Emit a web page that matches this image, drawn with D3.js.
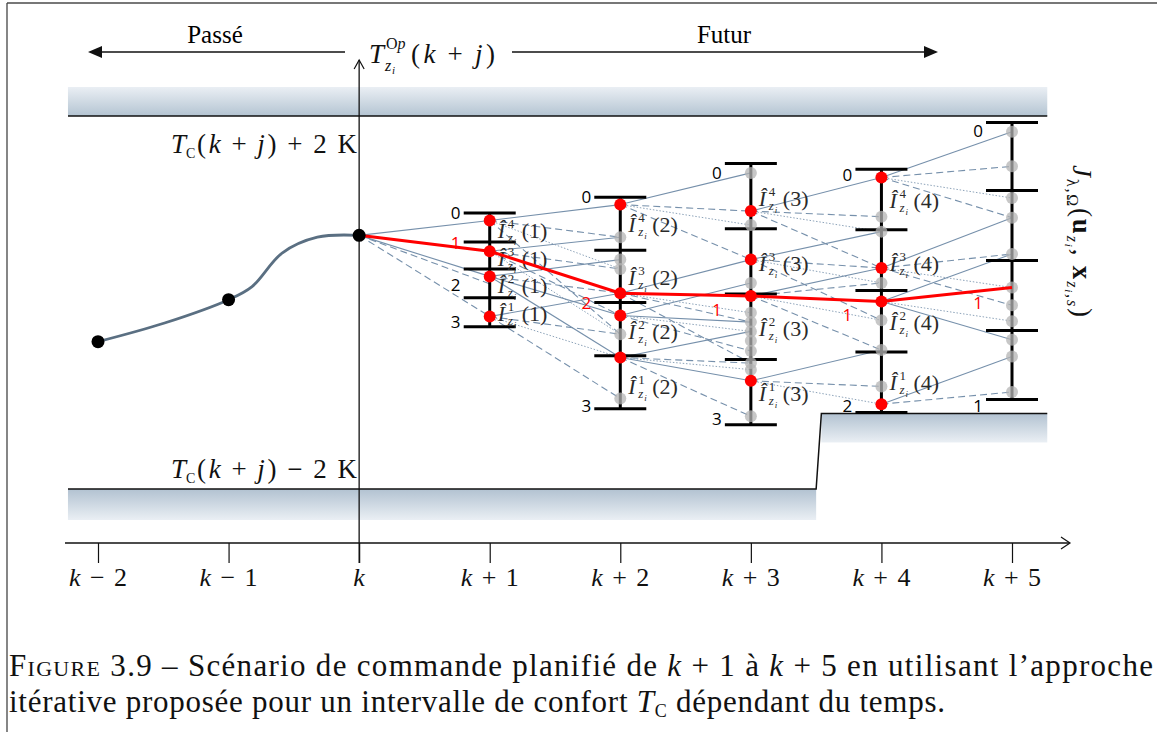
<!DOCTYPE html>
<html><head><meta charset="utf-8">
<script src="https://cdn.jsdelivr.net/npm/d3@7"></script>
<style>body{margin:0;background:#fff}svg{display:block}</style>
</head><body>
<svg id="c" width="1157" height="732"></svg>
<script>
// ---------------- data ----------------
const steps = [-2, -1, 0, 1, 2, 3, 4, 5];
const tickOps = ["−", "−", "", "+", "+", "+", "+", "+"];
const tickNums = ["2", "1", "", "1", "2", "3", "4", "5"];

// past trajectory (K relative to comfort centre)
const pastT = [-2, -1, 0];
const pastV = [-0.42, 0.03, 0.72];
const pastCurveT = [-2, -1.49, -1, -0.82, -0.59, -0.32, 0];
const pastCurveV = [-0.42, -0.22, 0.03, 0.17, 0.53, 0.70, 0.72];

// comfort bounds
const upperBoundT = [-2.23, 5.27];
const upperBoundV = [2, 2];
const lowerBoundT = [-2.23, 3.5, 3.54, 5.27];
const lowerBoundV = [-2, -2, -1.19, -1.19];

// future stages
const stages = [1, 2, 3, 4, 5];
const levelCaps = [
  [0.96, 0.65, 0.36, 0.05, -0.26],
  [1.13, 0.56, 0.00, -0.57, -1.14],
  [1.49, 0.79, 0.09, -0.61, -1.31],
  [1.43, 0.78, 0.13, -0.53, -1.18],
  [1.93, 1.20, 0.45, -0.30, -1.04]
];
const redDots = [
  [0.88, 0.55, 0.28, -0.15],
  [1.05, 0.10, -0.14, -0.59],
  [0.98, 0.46, 0.07, -0.84],
  [1.34, 0.37, 0.01, -1.09],
  []
];
const grayDots = [
  [],
  [0.70, 0.46, 0.36, -0.34, -1.03],
  [1.39, 0.83, 0.21, -0.11, -0.21, -0.31, -0.41, -0.52, -0.65, -0.72, -1.22],
  [0.92, 0.76, 0.21, -0.19, -0.51, -0.90],
  [1.83, 1.46, 1.12, 0.91, 0.52, 0.16, -0.03, -0.20, -0.40, -0.58, -0.96]
];

// level number labels: [stage, value, text]
const levelLabels = [
  [1, 0.96, "0"], [1, 0.19, "2"], [1, -0.21, "3"],
  [2, 1.13, "0"], [2, -1.11, "3"],
  [3, 1.39, "0"], [3, -1.25, "3"],
  [4, 1.37, "0"], [4, -1.11, "2"],
  [5, 1.84, "0"], [5, -1.11, "1"]
];

// interval labels Î^n_{z_i}(j): value of label centre per stage, n = 4..1
const intervalLabelV = [
  [0.78, 0.48, 0.19, -0.11],
  [0.84, 0.27, -0.31, -0.90],
  [1.12, 0.42, -0.27, -0.97],
  [1.10, 0.42, -0.21, -0.85]
];
const intervalNames = ["4", "3", "2", "1"];

// chosen (red) path
const pathT = [0, 1, 2, 3, 4, 5];
const pathV = [0.72, 0.55, 0.10, 0.07, 0.01, 0.16];
const pathLabels = ["1", "2", "1", "1", "1"];
const pathLabelV = [0.64, -0.01, -0.08, -0.13, -0.01];

// transitions: [fromValue, toValue, style]  s=solid d=dashed o=dotted
const edges01 = [[0.72, 0.88, "s"], [0.72, 0.28, "s"], [0.72, 0.20, "d"], [0.72, -0.15, "d"]];
const edges12 = [
  [0.88, 1.05, "s"], [0.88, 0.70, "d"], [0.88, 0.36, "o"], [0.88, -0.34, "d"],
  [0.55, 0.70, "s"], [0.55, 0.36, "d"], [0.55, -0.14, "d"], [0.55, -0.34, "o"],
  [0.28, 0.46, "s"], [0.28, 0.10, "d"], [0.28, -0.14, "s"], [0.28, -0.59, "s"],
  [-0.15, 0.10, "s"], [-0.15, -0.34, "d"], [-0.15, -0.59, "o"], [-0.15, -1.03, "d"]
];
const edges23 = [
  [1.05, 1.39, "s"], [1.05, 0.98, "d"], [1.05, 0.83, "o"], [1.05, 0.46, "d"],
  [0.10, 0.46, "s"], [0.10, -0.11, "o"], [0.10, -0.65, "d"], [0.10, -0.21, "d"],
  [-0.14, 0.21, "s"], [-0.14, -0.21, "s"], [-0.14, -0.31, "o"], [-0.14, -0.52, "d"],
  [-0.59, -0.31, "s"], [-0.59, -0.65, "d"], [-0.59, -0.84, "s"], [-0.59, -1.22, "d"], [-0.59, -0.72, "o"]
];
const edges34 = [
  [0.98, 1.34, "s"], [0.98, 0.92, "d"], [0.98, 0.76, "o"], [0.98, 0.37, "d"],
  [0.46, 0.76, "s"], [0.46, 0.37, "d"], [0.46, 0.21, "o"], [0.46, -0.19, "d"],
  [0.07, 0.37, "s"], [0.07, -0.19, "o"], [0.07, -0.51, "d"], [0.07, 0.21, "d"],
  [-0.84, -0.51, "s"], [-0.84, -0.90, "d"], [-0.84, -1.09, "o"]
];
const edges45 = [
  [1.34, 1.83, "s"], [1.34, 1.46, "d"], [1.34, 1.12, "o"], [1.34, 0.91, "d"],
  [0.37, 0.91, "s"], [0.37, 0.52, "d"], [0.37, 0.16, "o"], [0.37, -0.03, "d"],
  [0.01, 0.52, "s"], [0.01, -0.20, "o"], [0.01, -0.40, "s"],
  [-1.09, -0.58, "s"], [-1.09, -0.96, "d"]
];
const transitions = [edges01, edges12, edges23, edges34, edges45];

// ---------------- drawing ----------------
const svg = d3.select("#c");
const serif = "Liberation Serif, DejaVu Serif, serif";
const sans = "Open Sans, Liberation Sans, sans-serif";
const x = d3.scaleLinear().domain([-2, 5]).range([98, 1012]);
const y = d3.scaleLinear().domain([-2, 2]).range([489, 116]);
const axisY = 543;

const defs = svg.append("defs");
const gUp = defs.append("linearGradient").attr("id", "gUp").attr("x1", 0).attr("y1", 0).attr("x2", 0).attr("y2", 1);
gUp.append("stop").attr("offset", 0).attr("stop-color", "#eaeff4");
gUp.append("stop").attr("offset", 1).attr("stop-color", "#b4c4d2");
const gDn = defs.append("linearGradient").attr("id", "gDn").attr("x1", 0).attr("y1", 0).attr("x2", 0).attr("y2", 1);
gDn.append("stop").attr("offset", 0).attr("stop-color", "#b2c2d1");
gDn.append("stop").attr("offset", 1).attr("stop-color", "#eaeff4");

// frame
svg.append("line").attr("x1", 7).attr("x2", 1157).attr("y1", 3).attr("y2", 3).attr("stroke", "#777").attr("stroke-width", 2);
svg.append("line").attr("x1", 7).attr("x2", 7).attr("y1", 3).attr("y2", 732).attr("stroke", "#444").attr("stroke-width", 1.3);

// bands
const bandH = 29;
svg.append("rect").attr("x", x(upperBoundT[0])).attr("width", x(upperBoundT[1]) - x(upperBoundT[0]))
  .attr("y", y(upperBoundV[0]) - bandH).attr("height", bandH).attr("fill", "url(#gUp)");
svg.append("rect").attr("x", x(lowerBoundT[0])).attr("width", x(lowerBoundT[1]) - x(lowerBoundT[0]))
  .attr("y", y(lowerBoundV[0])).attr("height", 31).attr("fill", "url(#gDn)");
svg.append("rect").attr("x", x(lowerBoundT[2])).attr("width", x(lowerBoundT[3]) - x(lowerBoundT[2]))
  .attr("y", y(lowerBoundV[2])).attr("height", bandH).attr("fill", "url(#gDn)");
const bline = d3.line().x(d => x(d[0])).y(d => y(d[1]));
svg.append("path").attr("d", bline(upperBoundT.map((t, i) => [t, upperBoundV[i]])))
  .attr("stroke", "#111").attr("stroke-width", 1.5).attr("fill", "none");
svg.append("path").attr("d", bline(lowerBoundT.map((t, i) => [t, lowerBoundV[i]])))
  .attr("stroke", "#111").attr("stroke-width", 1.5).attr("fill", "none");

// x axis
const xAxis = d3.axisBottom(x).tickValues(steps).tickSize(20).tickSizeOuter(0).tickFormat("");
const ax = svg.append("g").attr("transform", `translate(0,${axisY})`).call(xAxis);
ax.select(".domain").remove();
ax.selectAll(".tick line").attr("stroke", "#111").attr("stroke-width", 1.2);
svg.append("line").attr("x1", 65).attr("x2", 1069).attr("y1", axisY).attr("y2", axisY).attr("stroke", "#111").attr("stroke-width", 1.3);
svg.append("path").attr("d", `M1061,${axisY - 6} L1070,${axisY} L1061,${axisY + 6}`).attr("fill", "none").attr("stroke", "#111").attr("stroke-width", 1.2);
steps.forEach((s, i) => {
  const t = svg.append("text").attr("x", x(s)).attr("y", axisY + 43).attr("text-anchor", "middle")
    .style("font-family", serif).attr("font-size", 26).attr("fill", "#111");
  t.append("tspan").attr("font-style", "italic").text("k");
  if (tickOps[i]) {
    t.attr("textLength", 58).attr("lengthAdjust", "spacing");
    t.append("tspan").text("\u2009" + tickOps[i] + "\u2009" + tickNums[i]);
  }
});

// y axis (vertical at k)
svg.append("line").attr("x1", x(0)).attr("x2", x(0)).attr("y1", 60).attr("y2", axisY + 20).attr("stroke", "#111").attr("stroke-width", 1.3);
svg.append("path").attr("d", `M${x(0) - 5},69 L${x(0)},60 L${x(0) + 5},69`).attr("fill", "none").attr("stroke", "#111").attr("stroke-width", 1.2);

// header arrows
function arrow(x1, x2, yy) {
  svg.append("line").attr("x1", x1).attr("x2", x2 + (x2 > x1 ? -10 : 10)).attr("y1", yy).attr("y2", yy).attr("stroke", "#111").attr("stroke-width", 1.3);
  const d = x2 > x1 ? -14 : 14;
  svg.append("path").attr("d", `M${x2},${yy} L${x2 + d},${yy - 6} L${x2 + d},${yy + 6} Z`).attr("fill", "#111");
}
arrow(345, 88, 52);
arrow(512, 938, 52);
svg.append("text").attr("x", 215).attr("y", 43).attr("text-anchor", "middle").style("font-family", serif).attr("font-size", 25).text("Passé");
svg.append("text").attr("x", 724).attr("y", 43).attr("text-anchor", "middle").style("font-family", serif).attr("font-size", 25).text("Futur");

// T^{Op}_{z_i}(k+j)
(function () {
  const f = svg.append("g").style("font-family", serif).attr("fill", "#111");
  f.append("text").attr("x", 369).attr("y", 63).attr("font-size", 27).attr("font-style", "italic").text("T");
  const sp = f.append("text").attr("x", 386).attr("y", 49).attr("font-size", 16);
  sp.append("tspan").text("O"); sp.append("tspan").attr("font-style", "italic").text("p");
  f.append("text").attr("x", 385).attr("y", 71).attr("font-size", 16).attr("font-style", "italic").text("z");
  f.append("text").attr("x", 392).attr("y", 74).attr("font-size", 11).attr("font-style", "italic").text("i");
  const p = f.append("text").attr("x", 411).attr("y", 63).attr("font-size", 27).attr("textLength", 84).attr("lengthAdjust", "spacing");
  p.append("tspan").text("(");
  p.append("tspan").attr("font-style", "italic").text("k");
  p.append("tspan").text("\u2009+\u2009");
  p.append("tspan").attr("font-style", "italic").text("j");
  p.append("tspan").text(")");
})();

// T_C(k+j) ± 2 K
function tcLabel(v, op) {
  const f = svg.append("g").style("font-family", serif).attr("fill", "#111");
  const yy = y(v) + (v > 0 ? 37 : -11);
  f.append("text").attr("x", 171).attr("y", yy).attr("font-size", 27).attr("font-style", "italic").text("T");
  f.append("text").attr("x", 186).attr("y", yy + 5).attr("font-size", 14).text("C");
  const p = f.append("text").attr("x", 197).attr("y", yy).attr("font-size", 27).attr("textLength", 160).attr("lengthAdjust", "spacing");
  p.append("tspan").text("(");
  p.append("tspan").attr("font-style", "italic").text("k");
  p.append("tspan").text("\u2009+\u2009");
  p.append("tspan").attr("font-style", "italic").text("j");
  p.append("tspan").text(")\u2009" + op + "\u20092\u2009K");
}
tcLabel(upperBoundV[0], "+");
tcLabel(lowerBoundV[0], "−");

// past curve
svg.append("path").attr("d", d3.line().curve(d3.curveCatmullRom.alpha(0.5)).x(d => x(d[0])).y(d => y(d[1]))(pastCurveT.map((t, i) => [t, pastCurveV[i]])))
  .attr("fill", "none").attr("stroke", "#5a6f82").attr("stroke-width", 2.8);

// transitions
const eg = svg.append("g").attr("fill", "none");
transitions.forEach((edges, ti) => {
  edges.forEach(e => {
    eg.append("line").attr("x1", x(ti)).attr("y1", y(e[0])).attr("x2", x(ti + 1)).attr("y2", y(e[1]))
      .attr("stroke", e[2] === "o" ? "#8ea4ba" : "#7690ab")
      .attr("stroke-width", e[2] === "o" ? 1 : 1.1)
      .attr("stroke-dasharray", e[2] === "d" ? "7,4" : (e[2] === "o" ? "1.5,1.8" : null));
  });
});

// level bars
stages.forEach((s, i) => {
  const caps = levelCaps[i];
  const g = svg.append("g").attr("stroke", "#000").attr("stroke-width", 3);
  g.append("line").attr("x1", x(s)).attr("x2", x(s)).attr("y1", y(d3.max(caps))).attr("y2", y(d3.min(caps)));
  caps.forEach(c => g.append("line").attr("x1", x(s) - 26).attr("x2", x(s) + 26).attr("y1", y(c)).attr("y2", y(c)));
});

// gray dots
stages.forEach((s, i) => {
  grayDots[i].forEach(v => svg.append("circle").attr("cx", x(s)).attr("cy", y(v)).attr("r", 6)
    .attr("fill", "#b4b4b4").attr("fill-opacity", 0.75));
});

// interval labels
stages.slice(0, 4).forEach((s, i) => {
  intervalLabelV[i].forEach((v, n) => {
    const x0 = x(s) + 8, yc = y(v);
    const g = svg.append("g").style("font-family", serif).attr("fill", "#2a2a2a");
    g.append("text").attr("x", x0).attr("y", yc + 8).attr("font-size", 22).attr("font-style", "italic").text("Î");
    g.append("text").attr("x", x0 + 10).attr("y", yc - 2).attr("font-size", 13).text(intervalNames[n]);
    g.append("text").attr("x", x0 + 10).attr("y", yc + 12).attr("font-size", 13).attr("font-style", "italic").text("z");
    g.append("text").attr("x", x0 + 16).attr("y", yc + 15).attr("font-size", 9).attr("font-style", "italic").text("i");
    g.append("text").attr("x", x0 + 24).attr("y", yc + 8).attr("font-size", 22).text("(" + s + ")");
  });
});

// red path
svg.append("path").attr("d", d3.line().x(d => x(d[0])).y(d => y(d[1]))(pathT.map((t, i) => [t, pathV[i]])))
  .attr("fill", "none").attr("stroke", "#ff0000").attr("stroke-width", 3);

// red dots
stages.forEach((s, i) => {
  redDots[i].forEach(v => svg.append("circle").attr("cx", x(s)).attr("cy", y(v)).attr("r", 6).attr("fill", "#ff0000"));
});

// past dots
pastT.forEach((t, i) => svg.append("circle").attr("cx", x(t)).attr("cy", y(pastV[i])).attr("r", 6.5).attr("fill", "#000"));

// level labels
levelLabels.forEach(l => svg.append("text").attr("x", x(l[0]) - 34).attr("y", y(l[1])).attr("dy", "0.35em")
  .attr("text-anchor", "middle").style("font-family", sans).attr("font-size", 17).attr("fill", "#000").text(l[2]));
pathLabels.forEach((t, i) => svg.append("text").attr("x", x(i + 1) - 34).attr("y", y(pathLabelV[i])).attr("dy", "0.35em")
  .attr("text-anchor", "middle").style("font-family", sans).attr("font-size", 17).attr("fill", "#ff0000").text(t));

// rotated cost label
(function () {
  const g = svg.append("g").attr("transform", "translate(1073,241) rotate(90)");
  const t = g.append("text").attr("text-anchor", "middle").style("font-family", serif).attr("font-size", 27).attr("fill", "#111")
    .attr("textLength", 152).attr("lengthAdjust", "spacing");
  t.append("tspan").attr("font-style", "italic").text("J");
  t.append("tspan").attr("font-size", 16).attr("dy", 6).text("λ,Ω");
  t.append("tspan").attr("dy", -6).text("(");
  t.append("tspan").attr("font-weight", "bold").text("u");
  t.append("tspan").attr("font-size", 16).attr("font-style", "italic").attr("dy", 6).text("z");
  t.append("tspan").attr("font-size", 11).attr("font-style", "italic").attr("dy", 2).text("i");
  t.append("tspan").attr("dy", -8).text(", ");
  t.append("tspan").attr("font-weight", "bold").text("x");
  t.append("tspan").attr("font-size", 16).attr("font-style", "italic").attr("dy", 6).text("z");
  t.append("tspan").attr("font-size", 11).attr("font-style", "italic").attr("dy", 2).text("i");
  t.append("tspan").attr("font-size", 16).attr("dy", -2).text(",");
  t.append("tspan").attr("font-size", 16).attr("font-style", "italic").text("s");
  t.append("tspan").attr("dy", -6).text(")");
})();

// caption
(function () {
  const c1 = svg.append("text").attr("x", 9).attr("y", 676).style("font-family", serif).attr("font-size", 31).attr("fill", "#111")
    .attr("textLength", 1144).attr("lengthAdjust", "spacing");
  c1.append("tspan").style("font-variant", "small-caps").text("Figure");
  c1.append("tspan").text(" 3.9 – Scénario de commande planifié de ");
  c1.append("tspan").attr("font-style", "italic").text("k");
  c1.append("tspan").text(" + 1 à ");
  c1.append("tspan").attr("font-style", "italic").text("k");
  c1.append("tspan").text(" + 5 en utilisant l’approche");
  const c2 = svg.append("text").attr("x", 9).attr("y", 712).style("font-family", serif).attr("font-size", 31).attr("fill", "#111")
    .attr("textLength", 936).attr("lengthAdjust", "spacing");
  c2.append("tspan").text("itérative proposée pour un intervalle de confort ");
  c2.append("tspan").attr("font-style", "italic").text("T");
  c2.append("tspan").attr("font-size", 18).attr("dy", 5).text("C");
  c2.append("tspan").attr("dy", -5).text(" dépendant du temps.");
})();
</script>
</body></html>
